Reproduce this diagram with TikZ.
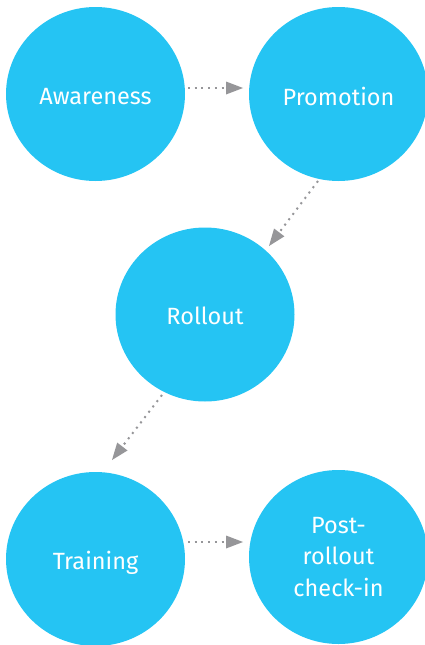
\documentclass[tikz,border=0pt]{standalone}
\usepackage{fontspec}
\setmainfont{Fira Sans}
\usetikzlibrary{shapes.geometric,arrows.meta,calc}
\definecolor{bubble}{RGB}{37,196,243}
\definecolor{arrowgray}{RGB}{150,150,153}
\newcommand{\lowertext}[2]{\raisebox{-#1}[\height][\depth]{#2}}
\tikzset{
  bubblenode/.style={ellipse, fill=bubble, draw=none, minimum width=179pt, minimum height=174pt, inner sep=0pt,
    text=white, font=\fontsize{23.5pt}{31.5pt}\selectfont, align=center},
  flowarrow/.style={draw=arrowgray, line width=2pt, dash pattern=on 2pt off 4.7pt,
    -{Triangle[length=17pt,width=13pt,fill=arrowgray,line width=0pt]}}
}
\begin{document}
\begin{tikzpicture}[x=1pt,y=-1pt]
\useasboundingbox (0,0) rectangle (425,645);
\node[bubblenode] (aw) at (95.5,94) {\lowertext{2.5pt}{Awareness}};
\node[bubblenode] (pr) at (338.5,94) {\lowertext{2.5pt}{Promotion}};
\node[bubblenode] (ro) at (205,314.5) {\lowertext{1.5pt}{Rollout}};
\node[bubblenode] (tr) at (95.5,559) {\lowertext{4pt}{Training}};
\node[bubblenode] (pc) at (338.5,557) {Post-\\rollout\\check-in};
\coordinate (a1) at ($(aw.center)+(92.5,-6)$);
\coordinate (a2) at ($(pr.center)+(-95.5,-6)$);
\coordinate (b1) at ($(pr.center)+(-20.5,87)$);
\coordinate (b2) at ($(ro.center)+(64,-68.5)$);
\coordinate (c1) at ($(ro.center)+(-43,80.5)$);
\coordinate (c2) at ($(tr.center)+(16.5,-99)$);
\coordinate (d1) at ($(tr.center)+(92.5,-17)$);
\coordinate (d2) at ($(pc.center)+(-95.5,-15)$);
\draw[flowarrow] (a1) -- (a2);
\draw[flowarrow] (b1) -- (b2);
\draw[flowarrow] (c1) -- (c2);
\draw[flowarrow] (d1) -- (d2);
\end{tikzpicture}
\end{document}
